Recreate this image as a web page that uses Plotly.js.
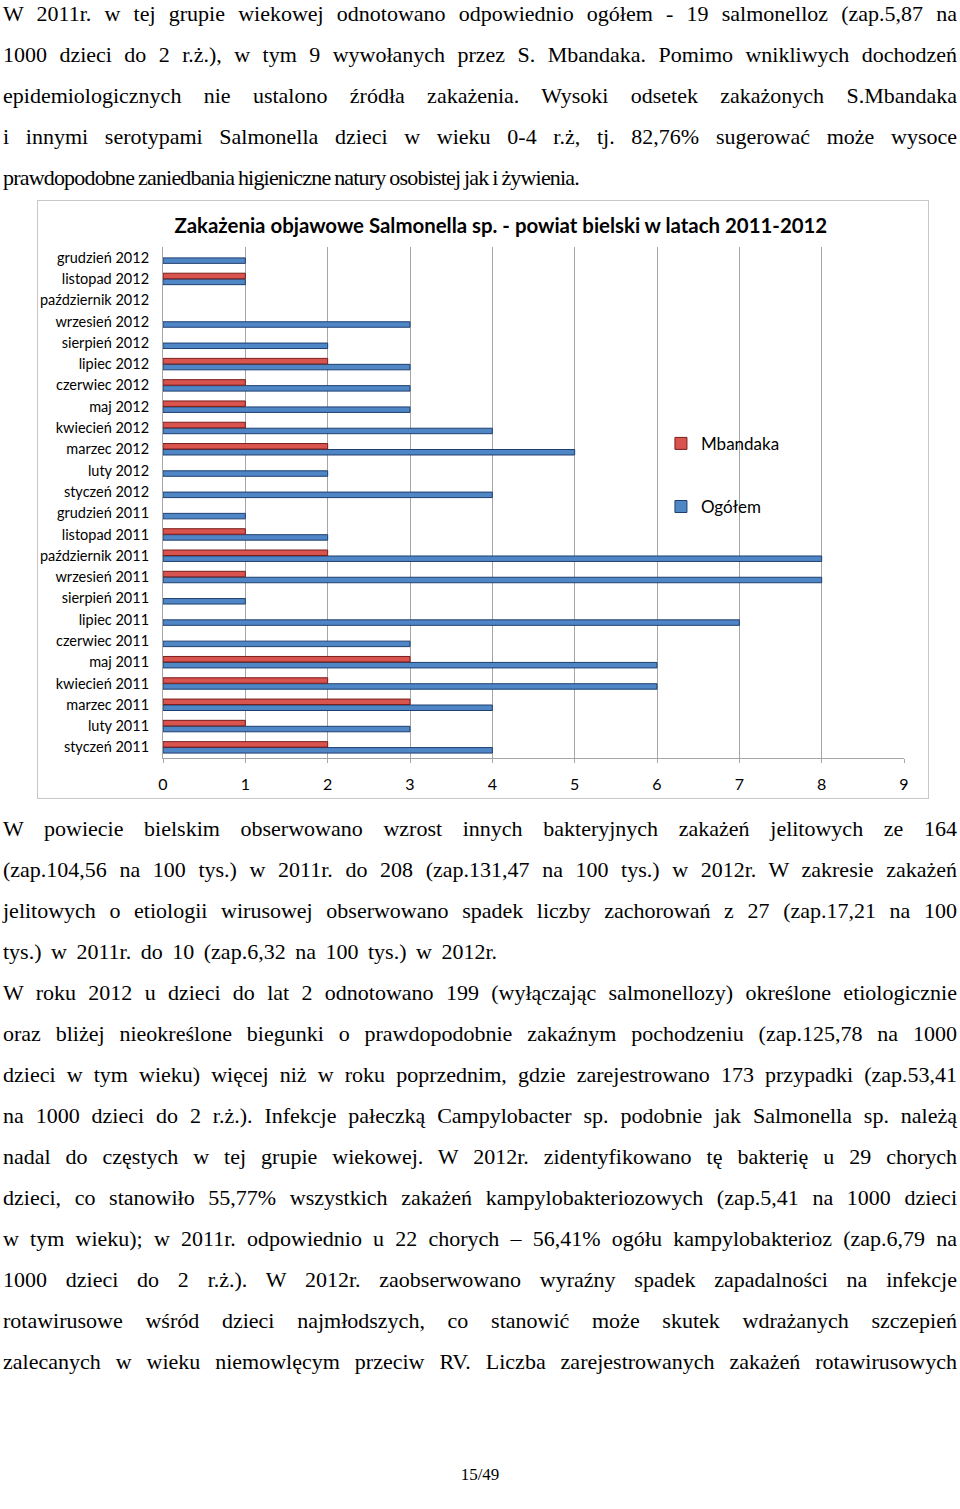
<!DOCTYPE html>
<html>
<head>
<meta charset="utf-8">
<script src="https://cdn.plot.ly/plotly-3.0.1.min.js"></script>
<style>
  html, body { margin: 0; padding: 0; background: #fff; }
  body { width: 960px; height: 1509px; position: relative; overflow: hidden; }
  .txt { position: absolute; left: 3px; width: 954px; font-family: "Liberation Serif", "Times New Roman", serif; font-size: 22px; line-height: 41px; color: #000; }
  .ln { white-space: nowrap; height: 41px; }
  #chartbox { position: absolute; left: 37px; top: 200px; width: 892px; height: 599px; border: 1px solid #c8c8c8; box-sizing: border-box; }
  #chart { position: absolute; left: 37px; top: 200px; width: 892px; height: 599px; }
  #page { position: absolute; left: 0; width: 960px; top: 1463px; text-align: center; font-family: "Liberation Serif", serif; font-size: 17px; line-height: 24px; }
</style>
</head>
<body>
<div class="txt" id="top" style="top:-7px">
  <div class="ln" data-w="954">W 2011r. w tej grupie wiekowej odnotowano odpowiednio ogółem - 19 salmonelloz (zap.5,87 na</div>
  <div class="ln" data-w="954">1000 dzieci do 2 r.ż.), w tym 9 wywołanych przez S. Mbandaka. Pomimo wnikliwych dochodzeń</div>
  <div class="ln" data-w="954">epidemiologicznych nie ustalono źródła zakażenia. Wysoki odsetek zakażonych S.Mbandaka</div>
  <div class="ln" data-w="954">i innymi serotypami Salmonella dzieci w wieku 0-4 r.ż, tj. 82,76% sugerować może wysoce</div>
  <div class="ln" data-w="576">prawdopodobne zaniedbania higieniczne natury osobistej jak i żywienia.</div>
</div>
<div id="chartbox"></div>
<div id="chart"></div>
<div class="txt" id="bottom" style="top:808px">
  <div class="ln" data-w="954">W powiecie bielskim obserwowano wzrost innych bakteryjnych zakażeń jelitowych ze 164</div>
  <div class="ln" data-w="954">(zap.104,56 na 100 tys.) w 2011r. do 208 (zap.131,47 na 100 tys.) w 2012r. W zakresie zakażeń</div>
  <div class="ln" data-w="954">jelitowych o etiologii wirusowej obserwowano spadek liczby zachorowań z 27 (zap.17,21 na 100</div>
  <div class="ln" data-w="494">tys.) w 2011r. do 10 (zap.6,32 na 100 tys.) w 2012r.</div>
  <div class="ln" data-w="954">W roku 2012 u dzieci do lat 2 odnotowano 199 (wyłączając salmonellozy) określone etiologicznie</div>
  <div class="ln" data-w="954">oraz bliżej nieokreślone biegunki o prawdopodobnie zakaźnym pochodzeniu (zap.125,78 na 1000</div>
  <div class="ln" data-w="954">dzieci w tym wieku) więcej niż w roku poprzednim, gdzie zarejestrowano 173 przypadki (zap.53,41</div>
  <div class="ln" data-w="954">na 1000 dzieci do 2 r.ż.). Infekcje pałeczką Campylobacter sp. podobnie jak Salmonella sp. należą</div>
  <div class="ln" data-w="954">nadal do częstych w tej grupie wiekowej. W 2012r. zidentyfikowano tę bakterię u 29 chorych</div>
  <div class="ln" data-w="954">dzieci, co stanowiło 55,77% wszystkich zakażeń kampylobakteriozowych (zap.5,41 na 1000 dzieci</div>
  <div class="ln" data-w="954">w tym wieku); w 2011r. odpowiednio u 22 chorych – 56,41% ogółu kampylobakterioz (zap.6,79 na</div>
  <div class="ln" data-w="954">1000 dzieci do 2 r.ż.). W 2012r. zaobserwowano wyraźny spadek zapadalności na infekcje</div>
  <div class="ln" data-w="954">rotawirusowe wśród dzieci najmłodszych, co stanowić może skutek wdrażanych szczepień</div>
  <div class="ln" data-w="954">zalecanych w wieku niemowlęcym przeciw RV. Liczba zarejestrowanych zakażeń rotawirusowych</div>
</div>
<div id="page">15/49</div>
<script>
// fit each line to its width in the reference page
(function(){
  var fs = 22;
  document.querySelectorAll('.ln').forEach(function(el){
    var T = parseFloat(el.getAttribute('data-w'));
    var s = document.createElement('span');
    s.textContent = el.textContent.trim();
    el.textContent = '';
    el.appendChild(s);
    var N = s.getBoundingClientRect().width;
    var S = (s.textContent.match(/ /g) || []).length;
    var C = s.textContent.length;
    if (T >= N) {
      if (S > 0) s.style.wordSpacing = ((T - N) / S) + 'px';
    } else {
      var ws = S > 0 ? Math.max((T - N) / S, -0.04 * fs) : 0;
      var rest = (T - N) - ws * S;
      s.style.wordSpacing = ws + 'px';
      s.style.letterSpacing = (rest / C) + 'px';
    }
  });
})();

// ---- data (bottom to top) ----
var months = [
  'styczeń 2011','luty 2011','marzec 2011','kwiecień 2011','maj 2011','czerwiec 2011',
  'lipiec 2011','sierpień 2011','wrzesień 2011','październik 2011','listopad 2011','grudzień 2011',
  'styczeń 2012','luty 2012','marzec 2012','kwiecień 2012','maj 2012','czerwiec 2012',
  'lipiec 2012','sierpień 2012','wrzesień 2012','październik 2012','listopad 2012','grudzień 2012'
];
var ogolem   = [4,3,4,6,6,3,7,1,8,8,2,1, 4,2,5,4,3,3,3,2,3,0,1,1];
var mbandaka = [2,1,3,2,3,0,0,0,1,2,1,0, 0,0,2,1,1,1,2,0,0,0,1,0];
var xTicks = [0,1,2,3,4,5,6,7,8,9];
var titleText = 'Zakażenia objawowe Salmonella sp. - powiat bielski w latach 2011-2012';

function lw(arr){ return arr.map(function(v){ return v === 0 ? 0 : 1; }); }

var traces = [
  { type:'bar', orientation:'h', name:'Ogółem', y: months, x: ogolem, legendgroup:'g2', legendrank: 2,
    marker:{ color:'#4f86c6', line:{ color:'#1f3f6e', width: lw(ogolem) } }, hoverinfo:'x+y+name' },
  { type:'bar', orientation:'h', name:'Mbandaka', y: months, x: mbandaka, legendgroup:'g1', legendrank: 1,
    marker:{ color:'#d9534f', line:{ color:'#7a1e1b', width: lw(mbandaka) } }, hoverinfo:'x+y+name' }
];

var layout = {
  width: 892, height: 599,
  margin: { l: 126, r: 25, t: 47, b: 41, pad: 0 },
  paper_bgcolor: 'rgba(0,0,0,0)', plot_bgcolor: 'rgba(0,0,0,0)',
  barmode: 'group', bargap: 0.44, bargroupgap: 0.08,
  font: { family: 'Lato, "Open Sans", sans-serif', color: '#000' },
  title: { text: titleText, font: { size: 20.4, family: 'Lato, sans-serif', weight: 'bold', color:'#000' },
           xref: 'container', x: 0.52, xanchor: 'center', yref: 'container', y: 0.957, yanchor: 'middle' },
  xaxis: { range: [0, 9], tickvals: xTicks, ticktext: xTicks.map(String), showgrid: true, gridcolor: '#a6a6a6', gridwidth: 1,
           zeroline: false, showline: true, linecolor: '#a6a6a6', linewidth: 1, ticks: 'outside', ticklen: 4, tickcolor: '#a6a6a6',
           tickfont: { size: 16 }, ticklabelstandoff: 8, fixedrange: true },
  yaxis: { type: 'category', categoryorder: 'array', categoryarray: months, showline: true, linecolor: '#a6a6a6', linewidth: 1,
           showgrid: false, zeroline: false, ticks: '', tickfont: { size: 14.5 }, ticklabelstandoff: 10, fixedrange: true },
  showlegend: true,
  legend: { x: 0.672, y: 0.65, xanchor: 'left', yanchor: 'top', traceorder: 'grouped', tracegroupgap: 38,
            font: { size: 17 }, bgcolor: 'rgba(0,0,0,0)', itemwidth: 30 }
};

Plotly.newPlot('chart', traces, layout, { displayModeBar: false, staticPlot: true });
</script>
</body>
</html>
